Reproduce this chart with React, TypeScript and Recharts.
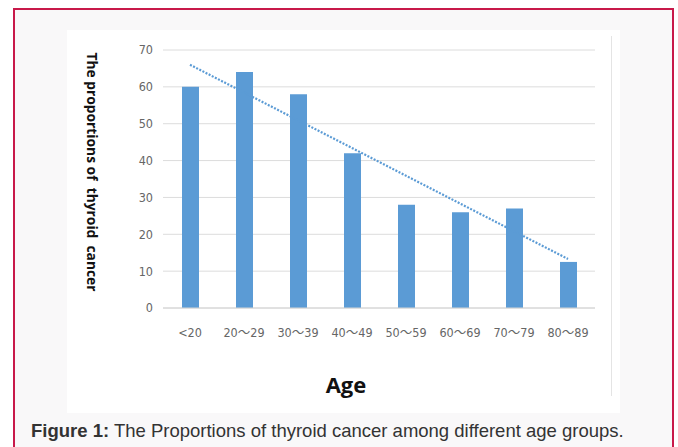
import React from 'react';
import { BarChart, Bar, XAxis, YAxis, CartesianGrid, ReferenceLine, Label } from 'recharts';

const ageGroups = ['<20', '20～29', '30～39', '40～49', '50～59', '60～69', '70～79', '80～89'];
const proportions = [60, 64, 58, 42, 28, 26, 27, 12.5];
const yTicks = [0, 10, 20, 30, 40, 50, 60, 70];
// dotted trend line: start and end values
const trendStart = 66;
const trendEnd = 13.3;

const data = ageGroups.map((g, i) => ({ group: g, value: proportions[i] }));

const tickFont = "'Liberation Sans Narrow', 'DejaVu Sans Condensed', 'Noto Sans CJK SC', sans-serif";

const YTitle = (props: any) => {
  const { viewBox } = props;
  const cx = 25;
  const cy = viewBox.y + viewBox.height / 2 - 7;
  return (
    <text
      x={cx}
      y={cy}
      transform={`rotate(90 ${cx} ${cy})`}
      textAnchor='middle'
      dominantBaseline='central'
      fontFamily="'Open Sans', 'Liberation Sans', sans-serif"
      fontWeight={700}
      fontSize={13.8}
      fill='#111'
      xmlSpace='preserve'
      style={{ whiteSpace: 'pre' }}
    >
      {'The proportions of  thyroid  cancer'}
    </text>
  );
};

export default function App() {
  return (
    <div style={{ position: 'absolute', left: 0, top: 0, width: 678, height: 447, overflow: 'hidden', background: '#fff' }}>
      <div
        style={{
          position: 'absolute',
          left: 13,
          top: 8,
          width: 657,
          height: 460,
          border: '2px solid #c8194a',
          background: '#f9f8f9',
        }}
      />
      <div style={{ position: 'absolute', left: 67, top: 30, width: 553, height: 383, background: '#fff' }} />
      <div style={{ position: 'absolute', left: 611, top: 36, width: 1, height: 360, background: '#e4e4e4' }} />
      <div style={{ position: 'absolute', left: 67, top: 30 }}>
        <BarChart width={553} height={383} data={data} margin={{ top: 20, right: 25, bottom: 75, left: 0 }}>
          <CartesianGrid vertical={false} stroke='#dcdcdc' strokeWidth={1} />
          <XAxis
            dataKey='group'
            axisLine={{ stroke: '#d4d4d4' }}
            tickLine={false}
            tickMargin={14}
            tick={{ fill: '#666', fontSize: 12.5, fontFamily: tickFont }}
            interval={0}
            height={30}
          />
          <YAxis
            domain={[0, 70]}
            ticks={yTicks}
            width={96}
            axisLine={false}
            tickLine={false}
            tickMargin={4}
            tick={{ fill: '#666', fontSize: 12.5, fontFamily: tickFont }}
          >
            <Label content={YTitle} />
          </YAxis>
          <Bar dataKey='value' fill='#5b9bd5' barSize={17} isAnimationActive={false} />
          <ReferenceLine
            segment={[
              { x: ageGroups[0], y: trendStart },
              { x: ageGroups[ageGroups.length - 1], y: trendEnd },
            ]}
            stroke='#5b9bd5'
            strokeWidth={2.2}
            strokeDasharray='2 1.5'
          />
        </BarChart>
      </div>
      <div
        style={{
          position: 'absolute',
          left: 246,
          width: 200,
          top: 369,
          textAlign: 'center',
          fontFamily: "'Open Sans', 'Liberation Sans', sans-serif",
          fontWeight: 700,
          fontSize: 22,
          color: '#111',
        }}
      >
        Age
      </div>
      <div
        style={{
          position: 'absolute',
          left: 31,
          top: 420,
          fontFamily: "'Liberation Sans', Arial, sans-serif",
          fontSize: 18.5,
          color: '#333',
          whiteSpace: 'nowrap',
        }}
      >
        <b>Figure 1:</b> The Proportions of thyroid cancer among different age groups.
      </div>
    </div>
  );
}
